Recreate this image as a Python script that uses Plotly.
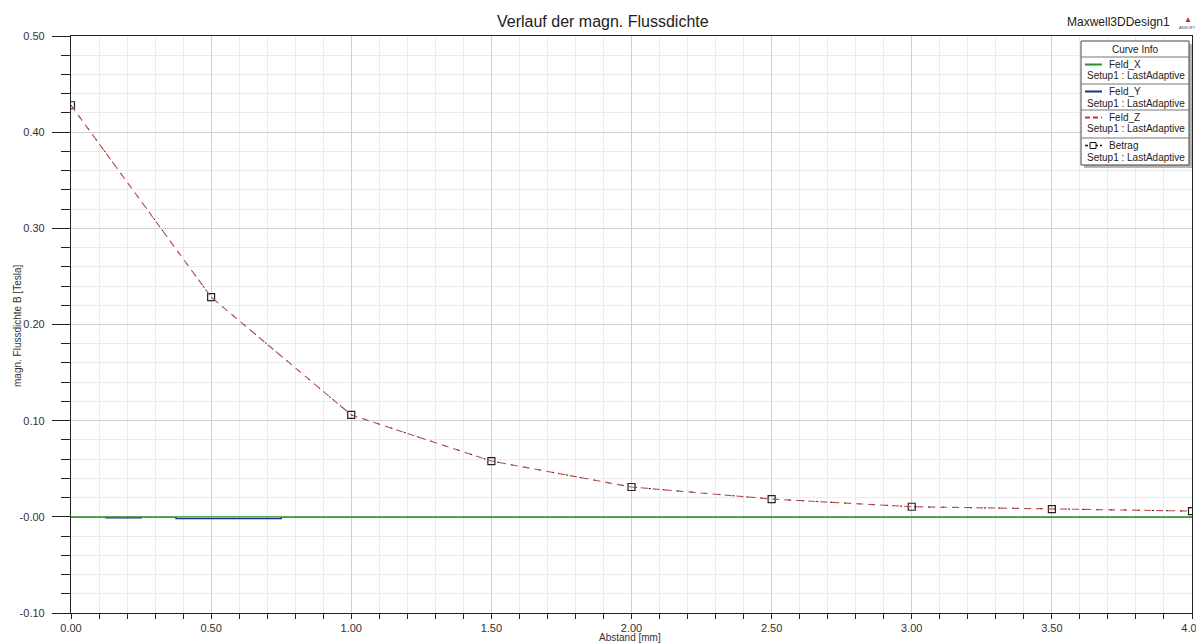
import plotly.graph_objects as go

# ---------------- data ----------------
abstand = [0.0, 0.5, 1.0, 1.5, 2.0, 2.5, 3.0, 3.5, 4.0]
betrag = [0.428, 0.2285, 0.106, 0.058, 0.031, 0.0185, 0.0105, 0.008, 0.006]
feld_z = [0.428, 0.2285, 0.106, 0.058, 0.031, 0.0185, 0.0105, 0.008, 0.006]
feld_x_pos = [0.0, 4.0]
feld_x = [0.0, 0.0]
feld_y_pos = [0.0, 0.125, 0.25, 0.375, 0.75, 4.0]
feld_y = [0.0, -0.0009, 0.0, -0.0018, 0.0, 0.0]

x_tickvals = [0, 0.5, 1.0, 1.5, 2.0, 2.5, 3.0, 3.5, 4.0]
x_ticktext = ["0.00", "0.50", "1.00", "1.50", "2.00", "2.50", "3.00", "3.50", "4.00"]
y_tickvals = [-0.1, 0.0, 0.1, 0.2, 0.3, 0.4, 0.5]
y_ticktext = ["-0.10", "-0.00", "0.10", "0.20", "0.30", "0.40", "0.50"]

legend_names = ["Feld_X", "Feld_Y", "Feld_Z", "Betrag"]
legend_sub = "Setup1 : LastAdaptive"

C_X = "#2f8f2f"
C_Y = "#1c2f86"
C_Z = "#d03030"
C_B = "#111111"

OFF = 8  # page body margin
W, H = 1204 - OFF, 644 - OFF
# plot area in page pixels: left 71, right 1192, top 36, bottom 613
ML, MT = 71 - OFF, 36 - OFF
MR, MB = W - (1192 - OFF), H - (613 - OFF)
PW, PH = W - ML - MR, H - MT - MB


def px(x):
    return (x - OFF - ML) / PW


def py(y):
    return (H - MB - (y - OFF)) / PH


fig = go.Figure()

fig.add_trace(go.Scatter(x=feld_y_pos, y=feld_y, mode="lines", line_shape="hv",
                         line=dict(color=C_Y, width=1.6), name="Feld_Y"))
fig.add_trace(go.Scatter(x=feld_x_pos, y=feld_x, mode="lines",
                         line=dict(color="#5aa85a", width=1.5), name="Feld_X"))
fig.add_trace(go.Scatter(x=abstand, y=betrag, mode="lines+markers",
                         line=dict(color=C_B, width=1, dash="2px,12px"),
                         marker=dict(symbol="square-open", size=7, color="#222222",
                                     line=dict(width=1.2)),
                         name="Betrag"))
fig.add_trace(go.Scatter(x=abstand, y=feld_z, mode="lines",
                         line=dict(color="#bb4a4a", width=1.1, dash="7px,5px"),
                         name="Feld_Z"))

font_family = "Liberation Sans, Arial, sans-serif"

fig.update_layout(
    width=W, height=H,
    margin=dict(l=ML, r=MR, t=MT, b=MB, autoexpand=False),
    paper_bgcolor="white", plot_bgcolor="white",
    showlegend=False,
    font=dict(family=font_family, color="#333333", size=11),
)

fig.update_xaxes(
    range=[0, 4], tickvals=x_tickvals, ticktext=x_ticktext,
    automargin=False,
    showline=True, linecolor="#222222", linewidth=1.2, mirror=True,
    ticks="outside", ticklen=5, tickcolor="#222222",
    showgrid=True, gridcolor="#cfcfcf", gridwidth=1,
    zeroline=False,
    tickfont=dict(size=11, color="#333333"),
    ticklabelstandoff=0,
    minor=dict(dtick=0.1, ticks="outside", ticklen=5, tickcolor="#222222",
               showgrid=True, gridcolor="#ebebeb", gridwidth=1),
)
fig.update_yaxes(
    range=[-0.1, 0.5], tickvals=y_tickvals, ticktext=y_ticktext,
    automargin=False,
    showline=True, linecolor="#222222", linewidth=1.2, mirror=True,
    ticks="outside", ticklen=18, tickcolor="#222222",
    showgrid=True, gridcolor="#cfcfcf", gridwidth=1,
    zeroline=False,
    tickfont=dict(size=11, color="#333333"),
    ticklabelstandoff=5,
    minor=dict(dtick=0.02, ticks="outside", ticklen=9, tickcolor="#222222",
               showgrid=True, gridcolor="#ebebeb", gridwidth=1),
)

ann = []
ann.append(dict(x=px(603), y=py(22), xref="paper", yref="paper",
                text="Verlauf der magn. Flussdichte", showarrow=False,
                font=dict(size=16, color="#222222"), xanchor="center", yanchor="middle"))
ann.append(dict(x=px(1172), y=py(22), xref="paper", yref="paper",
                text="Maxwell3DDesign1", showarrow=False,
                font=dict(size=12, color="#222222"), xanchor="right", yanchor="middle"))
ann.append(dict(x=px(1188), y=py(19), xref="paper", yref="paper",
                text="▲", showarrow=False,
                font=dict(size=8, color="#b03030"), xanchor="center", yanchor="middle"))
ann.append(dict(x=px(1187), y=py(28), xref="paper", yref="paper",
                text="ANSOFT", showarrow=False,
                font=dict(size=4, color="#444444"), xanchor="center", yanchor="middle"))
ann.append(dict(x=px(630), y=py(637), xref="paper", yref="paper",
                text="Abstand [mm]", showarrow=False,
                font=dict(size=10, color="#333333"), xanchor="center", yanchor="middle"))
ann.append(dict(x=px(17), y=py(326), xref="paper", yref="paper",
                text="magn. Flussdichte B [Tesla]", showarrow=False, textangle=-90,
                font=dict(size=10, color="#333333"), xanchor="center", yanchor="middle"))

shapes = []
# legend box
LL, LR, LT, LB = 1081, 1189, 41, 165
shapes.append(dict(type="rect", xref="paper", yref="paper",
                   x0=px(LL + 3), x1=px(LR + 3), y0=py(LB + 3), y1=py(LT + 3),
                   fillcolor="#b5b5b5", line=dict(width=0), layer="above"))
shapes.append(dict(type="rect", xref="paper", yref="paper",
                   x0=px(LL), x1=px(LR), y0=py(LB), y1=py(LT),
                   fillcolor="white", line=dict(color="#444444", width=1), layer="above"))
ann.append(dict(x=px((LL + LR) / 2), y=py(49.5), xref="paper", yref="paper",
                text="Curve Info", showarrow=False,
                font=dict(size=10, color="#222222"), xanchor="center", yanchor="middle"))
seps = [57, 84, 110, 138]
for s in seps:
    shapes.append(dict(type="line", xref="paper", yref="paper",
                       x0=px(LL), x1=px(LR), y0=py(s), y1=py(s),
                       line=dict(color="#777777", width=1), layer="above"))
row_tops = [57, 84, 110, 138]
styles = [
    dict(color=C_X, width=2, dash="solid"),
    dict(color=C_Y, width=2, dash="solid"),
    dict(color=C_Z, width=2, dash="5px,3px"),
    dict(color=C_B, width=1.5, dash="3px,2px"),
]
for i, name in enumerate(legend_names):
    top = row_tops[i]
    yl = top + 7.5
    shapes.append(dict(type="line", xref="paper", yref="paper",
                       x0=px(1085), x1=px(1102), y0=py(yl), y1=py(yl),
                       line=styles[i], layer="above"))
    if name == "Betrag":
        shapes.append(dict(type="rect", xref="paper", yref="paper",
                           x0=px(1090), x1=px(1096), y0=py(yl + 3), y1=py(yl - 3),
                           fillcolor="white", line=dict(color=C_B, width=1), layer="above"))
    ann.append(dict(x=px(1107), y=py(yl), xref="paper", yref="paper",
                    text=name, showarrow=False,
                    font=dict(size=10, color="#222222"), xanchor="left", yanchor="middle"))
    ann.append(dict(x=px(1085), y=py(top + 19), xref="paper", yref="paper",
                    text=legend_sub, showarrow=False,
                    font=dict(size=10, color="#222222"), xanchor="left", yanchor="middle"))

fig.update_layout(annotations=ann, shapes=shapes)

fig.write_html("out.html")
